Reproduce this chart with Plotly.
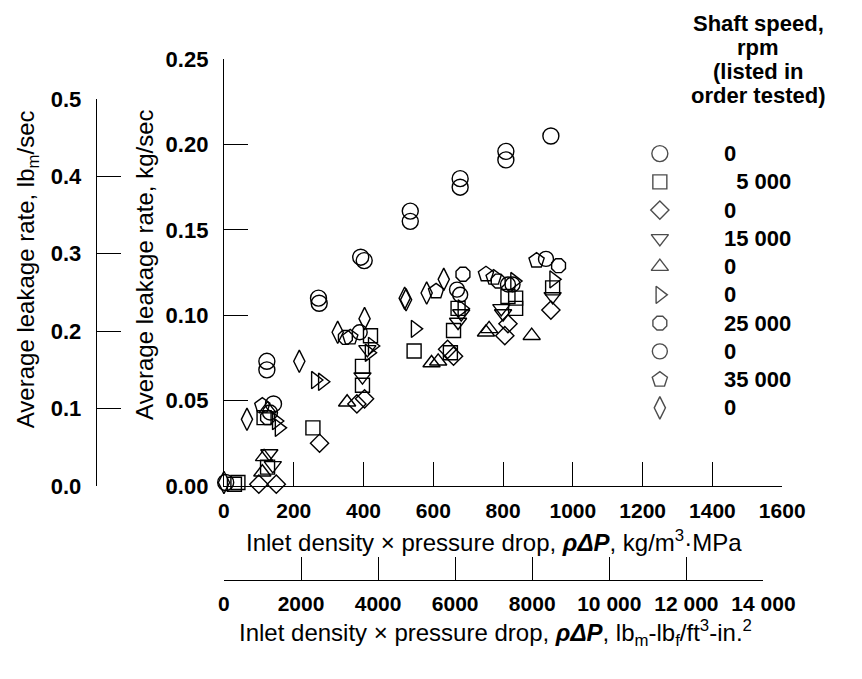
import plotly.graph_objects as go

W, H = 862, 679

# ---------------- data (kg/m3*MPa , kg/sec) ----------------
speeds = ["0", "\u00a0\u00a05 000", "0", "15 000", "0", "0", "25 000", "0", "35 000", "0"]
symbols = ["circle-open", "square-open", "diamond-open", "triangle-down-open", "triangle-up-open",
           "triangle-right-open", "octagon-open", "circle-open", "pentagon-open", "diamond-tall-open"]
sizes = [16, 14, 14, 15, 15, 15, 15, 15, 16, 16]

s1_x = [5, 123, 123, 142, 271, 273, 392, 402, 534, 534, 677, 677, 808, 808, 937]
s1_y = [0.002, 0.073, 0.068, 0.048, 0.110, 0.107, 0.134, 0.132, 0.161, 0.155, 0.180, 0.175, 0.196, 0.191, 0.205]

s2_x = [30, 40, 115, 125, 255, 397, 397, 420, 545, 649, 658, 671, 814, 836, 836, 942]
s2_y = [0.001, 0.002, 0.040, 0.011, 0.034, 0.070, 0.059, 0.088, 0.079, 0.078, 0.091, 0.104, 0.111, 0.110, 0.104, 0.116]

s3_x = [-15, 100, 150, 274, 381, 403, 641, 658, 805, 814, 937]
s3_y = [0.002, 0.001, 0.001, 0.025, 0.048, 0.051, 0.080, 0.076, 0.088, 0.095, 0.103]

s4_x = [140, 130, 397, 411, 671, 680, 795, 800, 942]
s4_y = [0.012, 0.019, 0.064, 0.080, 0.096, 0.101, 0.104, 0.101, 0.111]

s5_x = [115, 110, 125, 353, 595, 614, 751, 760, 882]
s5_y = [0.017, 0.008, 0.045, 0.049, 0.072, 0.073, 0.090, 0.092, 0.088]

s6_x = [150, 158, 262, 282, 416, 425, 548, 682, 833, 945]
s6_y = [0.038, 0.034, 0.062, 0.061, 0.078, 0.082, 0.092, 0.104, 0.120, 0.121]

s7_x = [125, 348, 685, 786, 959]
s7_y = [0.040, 0.087, 0.124, 0.120, 0.129]

s8_x = [132, 389, 668, 677, 814, 827, 923]
s8_y = [0.043, 0.090, 0.115, 0.112, 0.118, 0.118, 0.133]

s9_x = [110, 362, 608, 751, 773, 896]
s9_y = [0.047, 0.087, 0.114, 0.124, 0.122, 0.132]

s10_x = [0, 66, 216, 326, 403, 518, 522, 581, 630]
s10_y = [0.002, 0.039, 0.073, 0.090, 0.098, 0.110, 0.109, 0.113, 0.121]

series_x = [s1_x, s2_x, s3_x, s4_x, s5_x, s6_x, s7_x, s8_x, s9_x, s10_x]
series_y = [s1_y, s2_y, s3_y, s4_y, s5_y, s6_y, s7_y, s8_y, s9_y, s10_y]

kg_ticks = [0, 200, 400, 600, 800, 1000, 1200, 1400, 1600]
lb_ticks = [0, 2000, 4000, 6000, 8000, 10000, 12000, 14000]
lb_ticktext = ["0", "2000", "4000", "6000", "8000", "10 000", "12 000", "14 000"]
lbm_ticks = [0.0, 0.1, 0.2, 0.3, 0.4, 0.5]
kg_s_ticks = [0.00, 0.05, 0.10, 0.15, 0.20, 0.25]
header_lines = ["Shaft speed,", "rpm", "(listed in", "order tested)"]

# ---------------- helpers ----------------
def px(x):
    return x / W

def py(y):
    return 1 - y / H

FONT = "Liberation Sans, Arial, sans-serif"
BOLD = dict(family=FONT, color="black", weight="bold")

fig = go.Figure()

for i in range(len(series_x)):
    fig.add_trace(go.Scatter(
        x=series_x[i], y=series_y[i], mode="markers", xaxis="x", yaxis="y",
        marker=dict(symbol=symbols[i], size=sizes[i], color="black", line=dict(width=1.4, color="black")),
        cliponaxis=False, showlegend=False, hoverinfo="skip"))

# legend symbols on a hidden axis
idx = list(range(len(speeds)))
fig.add_trace(go.Scatter(
    x=[0] * len(idx), y=idx, mode="markers", xaxis="x4", yaxis="y4",
    marker=dict(symbol=symbols, size=sizes, color="black", line=dict(width=1.4, color="black")),
    cliponaxis=False, showlegend=False, hoverinfo="skip"))

# placeholder traces so that the extra axes are drawn
fig.add_trace(go.Scatter(x=[None], y=[None], xaxis="x3", yaxis="y2", showlegend=False))
fig.add_trace(go.Scatter(x=[None], y=[None], xaxis="x2", yaxis="y3", showlegend=False))

kg_per_lbm = 0.45359237
lb_to_kg = 16.0185 * 0.00689476  # lbm/ft3 * psi -> kg/m3 * MPa

x0, x1600 = 228, 812
y0, y25 = 492, 49
y_lbm_top = y0 - (0.5 * kg_per_lbm) / 0.25 * (y0 - y25)
x_lb_end = x0 + (14000 * lb_to_kg) / 1600 * (x1600 - x0)
y_lb_line = 590
TL = 24

axis_common = dict(showline=True, linecolor="black", linewidth=1.3, ticks="inside", ticklen=TL,
                   tickcolor="black", tickwidth=1.3, showgrid=False, zeroline=False)

fig.update_layout(
    width=W, height=H, margin=dict(l=0, r=0, t=0, b=0),
    paper_bgcolor="white", plot_bgcolor="rgba(0,0,0,0)", showlegend=False,
    xaxis=dict(domain=[px(x0), px(x1600)], range=[0, 1600], tickvals=kg_ticks, anchor="y",
               ticklabelstandoff=6, tickfont=dict(size=21, **BOLD), **axis_common),
    yaxis=dict(domain=[py(y0), py(y25)], range=[0, 0.25], tickvals=kg_s_ticks, tickformat=".2f",
               anchor="x", ticklabelstandoff=10, tickfont=dict(size=22, **BOLD), **axis_common),
    xaxis3=dict(domain=[px(95), px(100)], range=[0, 1], visible=False, anchor="y2"),
    yaxis2=dict(domain=[py(y0), py(y_lbm_top)], range=[0, 0.5], tickvals=lbm_ticks, tickformat=".1f",
                anchor="x3", ticklabelstandoff=10, tickfont=dict(size=22, **BOLD), **axis_common),
    xaxis2=dict(domain=[px(x0), px(x_lb_end)], range=[0, 14000], tickvals=lb_ticks, ticktext=lb_ticktext,
                anchor="y3", showline=True, linecolor="black", linewidth=1.3, ticks="",
                showgrid=True, gridcolor="black", gridwidth=1.3, zeroline=False,
                ticklabelstandoff=4, tickfont=dict(size=21, **BOLD)),
    yaxis3=dict(domain=[py(y_lb_line), py(y_lb_line - TL)], range=[0, 1], visible=False, anchor="x2"),
    xaxis4=dict(domain=[px(684), px(700)], range=[0, 1], visible=False, anchor="y4"),
    yaxis4=dict(domain=[py(411), py(147)], range=[9, 0], visible=False, anchor="x4"),
)

title_font = dict(family=FONT, size=24, color="black")
ann = []
ann.append(dict(text="Average leakage rate, lb<sub>m</sub>/sec", x=px(22), y=py(267), xref="paper", yref="paper",
                textangle=-90, showarrow=False, font=title_font, xanchor="center", yanchor="middle"))
ann.append(dict(text="Average leakage rate, kg/sec", x=px(145), y=py(263), xref="paper", yref="paper",
                textangle=-90, showarrow=False, font=title_font, xanchor="center", yanchor="middle"))
ann.append(dict(text="Inlet density \u00d7 pressure drop, <b><i>\u03c1\u0394P</i></b>, kg/m<sup>3</sup>\u00b7MPa",
                x=px(510), y=py(549), xref="paper", yref="paper", showarrow=False, font=title_font,
                xanchor="center", yanchor="middle"))
ann.append(dict(text="Inlet density \u00d7 pressure drop, <b><i>\u03c1\u0394P</i></b>, lb<sub>m</sub>-lb<sub>f</sub>/ft<sup>3</sup>-in.<sup>2</sup>",
                x=px(512), y=py(645), xref="paper", yref="paper", showarrow=False, font=title_font,
                xanchor="center", yanchor="middle"))
for k, line in enumerate(header_lines):
    ann.append(dict(text=line, x=px(787), y=py(12 + 25 * k), xref="paper", yref="paper", showarrow=False,
                    xanchor="center", yanchor="middle", font=dict(size=22, **BOLD)))
for i, s in enumerate(speeds):
    ann.append(dict(text=s, x=0, y=i, xref="x4", yref="y4", xshift=62, showarrow=False,
                    xanchor="left", yanchor="middle", font=dict(size=22, **BOLD)))
fig.update_layout(annotations=ann)

fig.write_html("out.html", config={"displayModeBar": False},
               post_script="document.body.style.margin='0';")
